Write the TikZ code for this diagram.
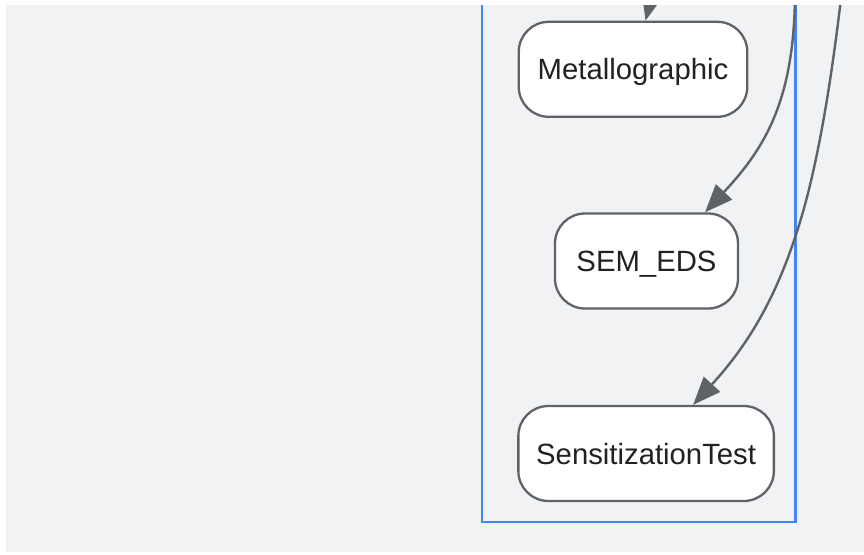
\documentclass[tikz,border=0pt]{standalone}
\usepackage{fontspec}
\setmainfont{Liberation Sans}
\usepackage{tikz}
\usetikzlibrary{shapes, arrows.meta, positioning}
\definecolor{bgcol}{HTML}{F1F2F4}
\definecolor{linecol}{HTML}{5F6368}
\definecolor{framecol}{HTML}{4285F4}
\definecolor{textcol}{HTML}{202124}
\tikzstyle{block} = [draw=linecol, line width=2.3pt, fill=white, rectangle, rounded corners=30pt, minimum height=95pt, text height=21pt, text depth=0pt, text=textcol, font=\fontsize{29.3}{35}\selectfont]
\tikzstyle{edge} = [draw=linecol, line width=2.4pt, -{Triangle[length=28pt, width=22pt]}]

\begin{document}
\begin{tikzpicture}[x=1pt, y=-1pt]
    \useasboundingbox (0,0) rectangle (864,554);
    \fill[bgcol] (6,5) rectangle (864,552);
    \clip (6,5) rectangle (864,552);
    \draw[framecol, line width=2.3pt] (481.7,-30) rectangle (795.5,522.2);
    \node[block, minimum width=228.5pt] (metal) at (633,69.3) {Metallographic};
    \node[block, minimum width=183pt, below of=metal, node distance=191.7pt, xshift=13.5pt] (sem) {SEM\_EDS};
    \node[block, minimum width=255.5pt, below of=sem, node distance=192.5pt, xshift=-0.4pt] (sens) {SensitizationTest};
    \coordinate (inA) at (661,-40);
    \coordinate (inB) at (795,-10);
    \coordinate (inC) at (842,-10);
    \draw[edge] (inA) -- ([xshift=12.5pt]metal.north);
    \draw[edge] (inB) .. controls (795,100) and (765,148) .. ([xshift=58.5pt]sem.north);
    \draw[edge] (inC) .. controls (835,50) and (822,150) .. (800,222) .. controls (780,287) and (754.5,338) .. ([xshift=47pt]sens.north);
\end{tikzpicture}
\end{document}
